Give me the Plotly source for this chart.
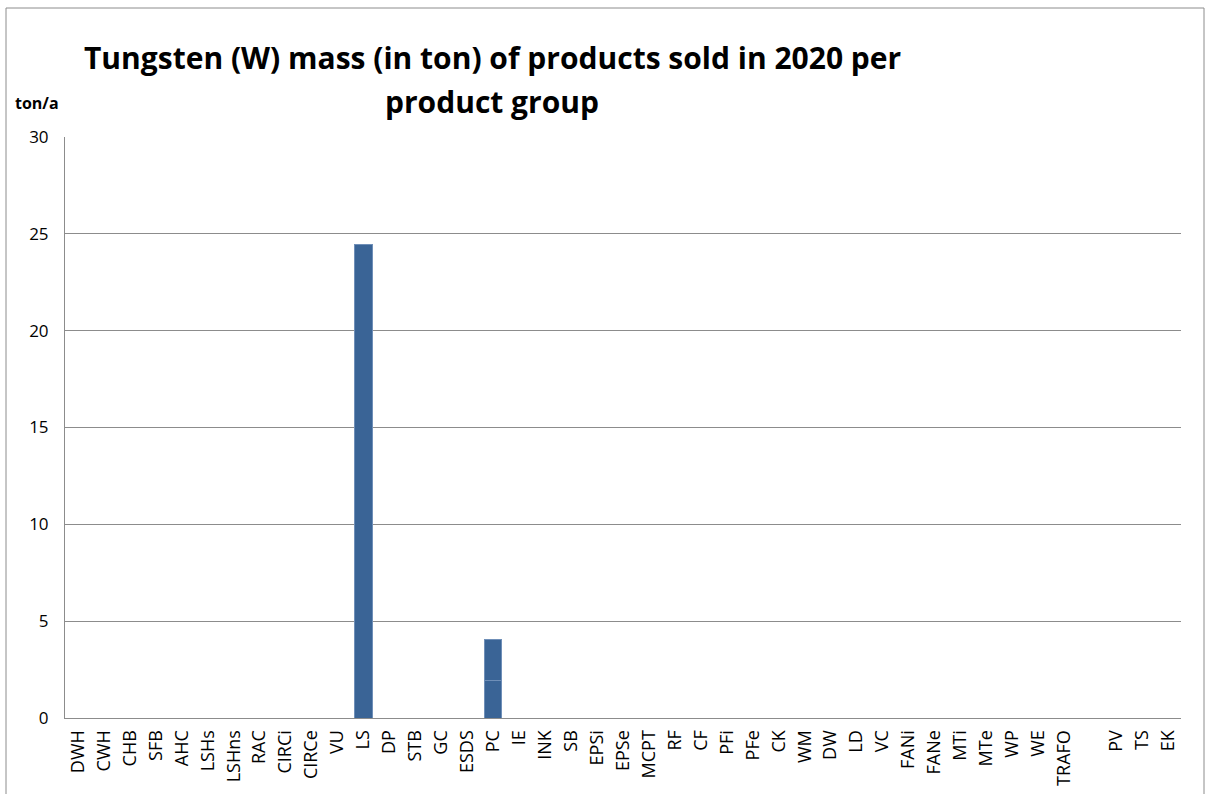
import plotly.graph_objects as go

CATEGORIES = [
    "DWH", "CWH", "CHB", "SFB", "AHC", "LSHs", "LSHns", "RAC", "CIRCi", "CIRCe",
    "VU", "LS", "DP", "STB", "GC", "ESDS", "PC", "IE", "INK", "SB", "EPSi", "EPSe",
    "MCPT", "RF", "CF", "PFi", "PFe", "CK", "WM", "DW", "LD", "VC", "FANi", "FANe",
    "MTi", "MTe", "WP", "WE", "TRAFO", " ", "PV", "TS", "EK",
]
# two stacked contributions per product group (ton/a)
SERIES_A = [0] * len(CATEGORIES)
SERIES_B = [0] * len(CATEGORIES)
SERIES_A[CATEGORIES.index("LS")] = 24.45
SERIES_A[CATEGORIES.index("PC")] = 1.95
SERIES_B[CATEGORIES.index("PC")] = 2.08

Y_TICKS = [0, 5, 10, 15, 20, 25, 30]
TITLE_LINES = [
    "Tungsten (W) mass (in ton) of products sold in 2020 per",
    "product group",
]

BAR_COLOR = "#3a6496"
BAR_EDGE = "#6f8fb8"
GRID_COLOR = "#8c8c8c"
FONT = "Open Sans"

W, H = 1206, 794
L, R, T, B = 65, 25, 137, 76
PW, PH = W - L - R, H - T - B


def px_x(x):
    return (x - L) / PW


def px_y(y):
    return (H - B - y) / PH


fig = go.Figure()
for vals in (SERIES_A, SERIES_B):
    fig.add_trace(
        go.Bar(
            x=CATEGORIES,
            y=vals,
            marker=dict(color=BAR_COLOR, line=dict(color=BAR_EDGE, width=1)),
            showlegend=False,
            hoverinfo="skip",
        )
    )

annotations = [
    dict(
        text=f"<b>{line}</b>",
        xref="paper", yref="paper",
        x=px_x(492), y=px_y(ypos),
        xanchor="center", yanchor="middle",
        showarrow=False,
        font=dict(size=30, family=FONT),
    )
    for line, ypos in zip(TITLE_LINES, (57, 101))
]
annotations.append(
    dict(
        text="<b>ton/a</b>",
        xref="paper", yref="paper",
        x=px_x(13), y=px_y(103),
        xanchor="left", yanchor="middle",
        showarrow=False,
        font=dict(size=16, family=FONT),
    )
)

fig.update_layout(
    width=W,
    height=H,
    margin=dict(l=L, r=R, t=T, b=B),
    barmode="stack",
    bargap=0.34,
    plot_bgcolor="white",
    paper_bgcolor="white",
    font=dict(family=FONT, color="black"),
    xaxis=dict(
        type="category",
        tickangle=-90,
        tickfont=dict(size=18),
        showline=True,
        linecolor=GRID_COLOR,
        linewidth=1,
        showgrid=False,
        ticks="",
        ticklabelstandoff=4,
        automargin=False,
    ),
    yaxis=dict(
        range=[0, 30],
        tickvals=Y_TICKS,
        tickfont=dict(size=17),
        showline=True,
        linecolor=GRID_COLOR,
        linewidth=1,
        gridcolor=GRID_COLOR,
        gridwidth=1,
        zeroline=False,
        ticks="",
        ticklabelstandoff=12,
        automargin=False,
    ),
    annotations=annotations,
    shapes=[
        dict(
            type="rect",
            xref="paper", yref="paper",
            x0=px_x(6), x1=px_x(1204), y0=px_y(820), y1=px_y(8),
            line=dict(color="#8c8c8c", width=1),
            fillcolor="rgba(0,0,0,0)",
            layer="below",
        )
    ],
)

fig.write_html(
    "out.html",
    config={"displayModeBar": False},
    post_script="document.body.style.margin='0px';document.body.style.overflow='hidden';",
)
